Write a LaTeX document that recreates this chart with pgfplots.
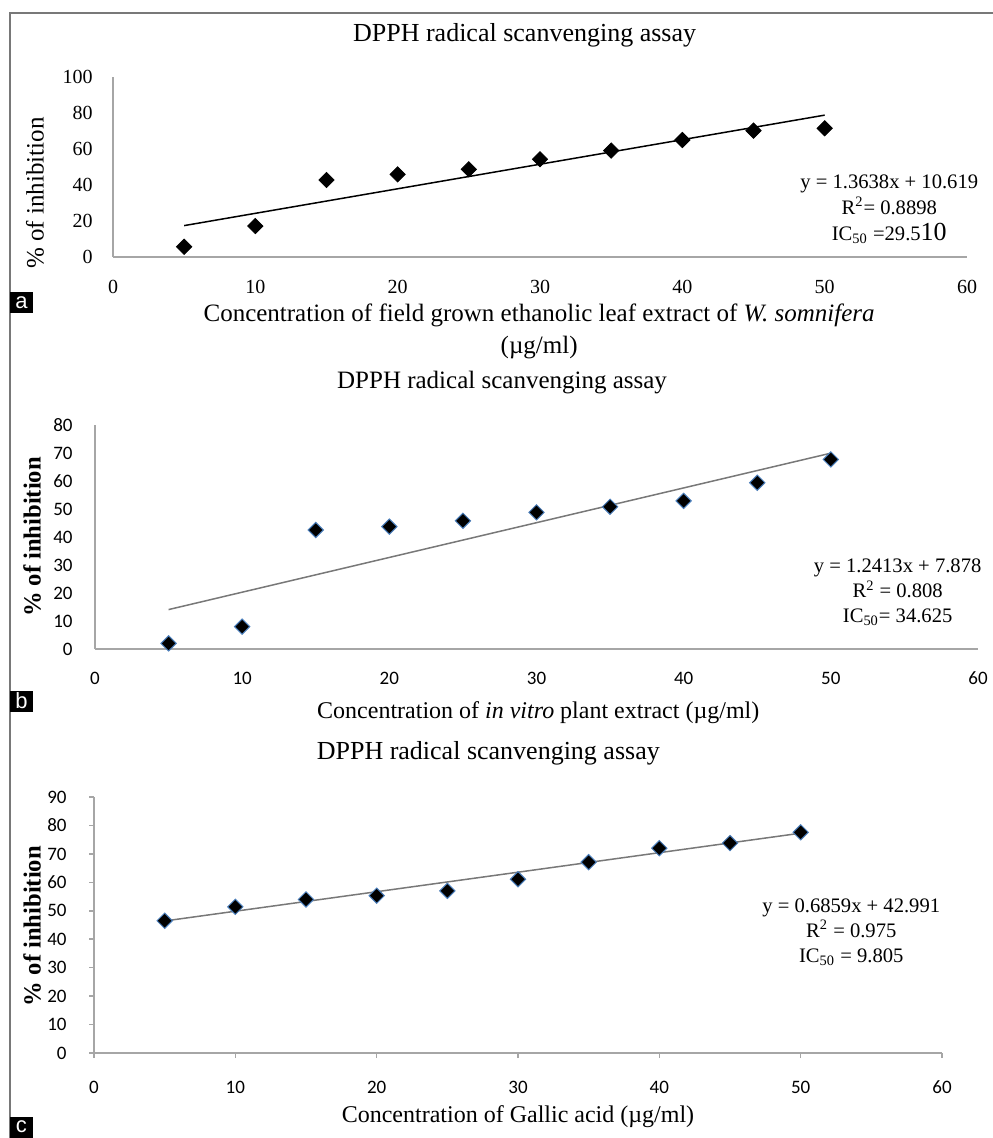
\documentclass[border=0pt]{standalone}
\usepackage{fontspec}
\setmainfont{Liberation Serif}
\newfontfamily\calibri{Carlito}
\newfontfamily\arialf{Liberation Sans}
\usepackage{pgfplots}
\pgfplotsset{compat=1.18}
\definecolor{axgray}{RGB}{166,166,166}
\definecolor{trgray}{RGB}{120,120,120}
\definecolor{mkblue}{RGB}{74,126,187}
\definecolor{framegray}{RGB}{120,120,120}

\pgfplotsset{panel/.style={
  scale only axis, anchor=south west, xmin=0, xmax=60, ymin=0,
  axis lines=left,
  axis line style={-, draw=axgray, line width=0.75pt},
  every outer x axis line/.append style={-},
  every outer y axis line/.append style={-},
  every inner x axis line/.append style={-},
  every inner y axis line/.append style={-},
  xtick={0,10,...,60}, clip=false,
  every axis title shift=0pt,
  /pgf/number format/assume math mode=true,
  xticklabel style={anchor=center},
  yticklabel style={anchor=east, inner sep=0pt},
  title style={anchor=center},
  xlabel style={anchor=center, align=center},
  ylabel style={anchor=center},
}}

\begin{document}
\begin{tikzpicture}
\path[use as bounding box] (0,0) rectangle (496pt,-569pt);
\draw[framegray, line width=0.7pt] (5pt,-575pt) -- (5pt,-6.5pt) -- (500pt,-6.5pt);

% ---------------- panel a ----------------
\begin{axis}[panel, at={(56.5pt,-128.5pt)}, width=427pt, height=90pt,
  ymax=100, ytick={0,20,...,100}, major tick length=0pt,
  ticklabel style={font=\fontsize{10}{12}\selectfont},
  xticklabel style={yshift=-15pt},
  yticklabel style={xshift=-10pt},
  title={DPPH radical scanvenging assay},
  title style={at={(axis description cs:0.482,1.233)}, font=\fontsize{13}{15}\selectfont},
  xlabel={Concentration of field grown ethanolic leaf extract of \textit{W. somnifera}\\(µg/ml)},
  xlabel style={at={(axis description cs:0.499,-0.411)}, font=\fontsize{12.5}{16}\selectfont},
  ylabel={\% of inhibition},
  ylabel style={at={(axis description cs:-0.0913,0.356)}, font=\fontsize{12.5}{14}\selectfont},
]
\addplot[black, line width=0.75pt, no marks] coordinates {(5,17.44) (50,78.81)};
\addplot[only marks, mark=square*, mark size=2.7pt,
  mark options={rotate=45, fill=black, draw=black}] coordinates {
  (5,5.7) (10,17.2) (15,42.8) (20,45.9) (25,48.7)
  (30,54.3) (35,59.1) (40,65.0) (45,70.2) (50,71.5)};
\node[align=center, font=\fontsize{10.3}{13}\selectfont] at (axis description cs:0.909,0.267)
  {y = 1.3638x + 10.619\\R\textsuperscript{2}= 0.8898\\IC\textsubscript{50} =29.5{\fontsize{13}{13}\selectfont 10}};
\end{axis}

% ---------------- panel b ----------------
\begin{axis}[panel, at={(47.5pt,-324.5pt)}, width=441.5pt, height=112pt,
  ymax=80, ytick={0,10,...,80}, major tick length=0pt,
  ticklabel style={font=\calibri\fontsize{9.5}{11}\selectfont},
  xticklabel style={yshift=-14.5pt},
  yticklabel style={xshift=-11pt},
  title={DPPH radical scanvenging assay},
  title style={at={(axis description cs:0.461,1.1875)}, font=\fontsize{12.5}{15}\selectfont},
  xlabel={Concentration of \textit{in vitro} plant extract (µg/ml)},
  xlabel style={at={(axis description cs:0.502,-0.286)}, font=\fontsize{12}{14}\selectfont},
  ylabel={\textbf{\% of inhibition}},
  ylabel style={at={(axis description cs:-0.0713,0.5)}, font=\fontsize{12.3}{14}\selectfont},
]
\addplot[trgray, line width=0.75pt, no marks] coordinates {(5,14.08) (50,69.94)};
\addplot[only marks, mark=square*, mark size=2.7pt,
  mark options={rotate=45, fill=black, draw=mkblue, line width=0.5pt}] coordinates {
  (5,2.0) (10,8.0) (15,42.5) (20,43.7) (25,45.8)
  (30,48.8) (35,50.8) (40,52.9) (45,59.4) (50,67.7)};
\node[align=center, font=\fontsize{10.3}{12.5}\selectfont] at (axis description cs:0.909,0.254)
  {y = 1.2413x + 7.878\\R\textsuperscript{2} = 0.808\\IC\textsubscript{50}= 34.625};
\end{axis}

% ---------------- panel c ----------------
\begin{axis}[panel, at={(47pt,-526.5pt)}, width=424pt, height=128pt,
  ymax=90, ytick={0,10,...,90},
  tick align=outside, major tick length=2.5pt,
  tick style={axgray, line width=0.75pt},
  ticklabel style={font=\calibri\fontsize{9.5}{11}\selectfont},
  xticklabel style={yshift=-14.5pt},
  yticklabel style={xshift=-11pt},
  title={DPPH radical scanvenging assay},
  title style={at={(axis description cs:0.465,1.172)}, font=\fontsize{13}{15}\selectfont},
  xlabel={Concentration of Gallic acid (µg/ml)},
  xlabel style={at={(axis description cs:0.5,-0.25)}, font=\fontsize{12}{14}\selectfont},
  ylabel={\textbf{\% of inhibition}},
  ylabel style={at={(axis description cs:-0.073,0.496)}, font=\fontsize{12.3}{14}\selectfont},
]
\addplot[trgray, line width=0.75pt, no marks] coordinates {(5,46.42) (50,77.29)};
\addplot[only marks, mark=square*, mark size=2.7pt,
  mark options={rotate=45, fill=black, draw=mkblue, line width=0.5pt}] coordinates {
  (5,46.5) (10,51.4) (15,54.0) (20,55.3) (25,57.0)
  (30,61.1) (35,67.1) (40,72.0) (45,73.8) (50,77.6)};
\node[align=center, font=\fontsize{10.3}{12.5}\selectfont] at (axis description cs:0.893,0.473)
  {y = 0.6859x + 42.991\\R\textsuperscript{2} = 0.975\\IC\textsubscript{50} = 9.805};
\end{axis}

% panel letters
\node[fill=black, text=white, font=\arialf\fontsize{11}{11}\selectfont, minimum width=11.5pt, minimum height=10.5pt, inner sep=0pt] at (10.75pt,-151.5pt) {a};
\node[fill=black, text=white, font=\arialf\fontsize{11}{11}\selectfont, minimum width=11.5pt, minimum height=10.5pt, inner sep=0pt] at (10.75pt,-350.5pt) {b};
\node[fill=black, text=white, font=\arialf\fontsize{11}{11}\selectfont, minimum width=11.5pt, minimum height=10.5pt, inner sep=0pt] at (10.75pt,-563.5pt) {c};
\end{tikzpicture}
\end{document}
